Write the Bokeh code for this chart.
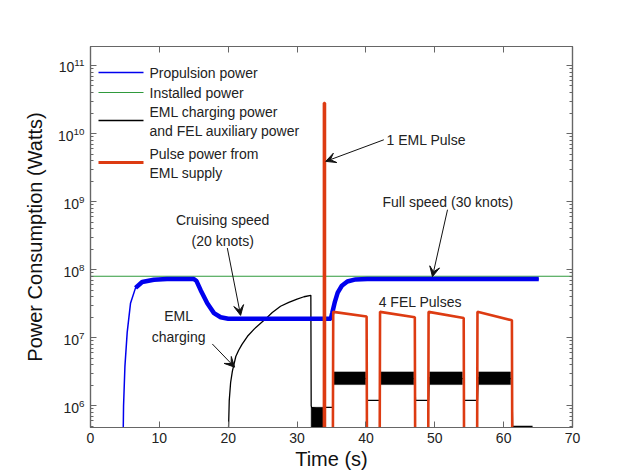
from bokeh.plotting import figure
from bokeh.models import (Arrow, VeeHead, LinearAxis, LogAxis, FixedTicker,
                          CustomJSTickFormatter, Label, PolyAnnotation)
from bokeh.embed import file_html
from bokeh.resources import INLINE

FONT = "Liberation Sans"

# ---------------- data ----------------
# Propulsion power (blue)
prop_t = [4.75, 4.8, 5.0, 5.33, 5.81, 6.54, 7.5, 9.2, 11.1, 15.0, 15.4, 16.0, 16.96,
          17.93, 18.9, 20.0, 25.0, 30.0, 34.9, 35.1, 35.5, 35.9, 36.5, 37.3, 38.5,
          40.2, 50.0, 65.1]
prop_p = [4.0e5, 1.0e6, 3.8e6, 1.2e7, 3.2e7, 5.4e7, 6.6e7, 7.1e7, 7.3e7, 7.3e7, 6.8e7,
          5.0e7, 3.2e7, 2.3e7, 2.0e7, 1.9e7, 1.9e7, 1.9e7, 1.9e7, 2.3e7, 3.4e7, 4.6e7,
          5.8e7, 6.7e7, 7.2e7, 7.3e7, 7.3e7, 7.3e7]

# Installed power (green)
inst_t = [0.0, 70.0]
inst_p = [8.0e7, 8.0e7]

# EML charging power and FEL auxiliary power (black)
aux_t = [20.0, 20.15, 20.35, 20.6, 21.1, 21.5, 22.0, 22.8, 23.8, 25.2, 26.4, 27.6,
         28.8, 30.0, 31.0, 32.0, 32.05, 32.1, 33.9, 34.0, 35.2, 35.3, 40.1, 40.2,
         42.0, 42.1, 47.1, 47.2, 49.1, 49.2, 54.2, 54.3, 56.2, 56.3, 61.2, 61.3, 64.2]
aux_p = [3.0e5, 1.2e6, 2.2e6, 3.2e6, 5.3e6, 6.5e6, 8.0e6, 1.05e7, 1.35e7, 1.8e7, 2.35e7,
         2.9e7, 3.3e7, 3.7e7, 4.0e7, 4.2e7, 1.0e6, 9.5e5, 8.5e5, 9.5e5, 9.5e5, 2.6e6,
         2.5e6, 1.2e6, 1.2e6, 2.6e6, 2.5e6, 1.2e6, 1.2e6, 2.6e6, 2.5e6, 1.2e6, 1.2e6,
         2.6e6, 2.5e6, 5.0e5, 5.0e5]

# envelope of the fast ripple on the black trace
band_left = [32.05, 35.25, 42.1, 49.25, 56.35]
band_right = [33.9, 39.95, 46.95, 54.0, 61.0]
band_low = [3.0e5, 2.05e6, 2.05e6, 2.05e6, 2.05e6]
band_high = [9.5e5, 3.15e6, 3.15e6, 3.15e6, 3.15e6]

# Pulse power from EML supply (red)
pulse_t = [33.9, 33.9, 34.05, 34.05, 35.2, 35.25, 40.1, 40.15, 42.0, 42.05, 47.1, 47.15,
           49.05, 49.1, 54.2, 54.25, 56.15, 56.2, 61.2, 61.25]
pulse_p = [3.0e5, 2.8e10, 2.8e10, 3.0e5, 3.0e5, 2.4e7, 2.05e7, 3.0e5, 3.0e5, 2.4e7,
           2.0e7, 3.0e5, 3.0e5, 2.4e7, 1.95e7, 3.0e5, 3.0e5, 2.4e7, 1.8e7, 3.0e5]

x_ticks = [0, 10, 20, 30, 40, 50, 60, 70]
y_ticks = [1e6, 1e7, 1e8, 1e9, 1e10, 1e11]
y_minor = [m * 10.0 ** k for k in range(5, 12) for m in range(2, 10)]

legend_labels = [["Propulsion power"], ["Installed power"],
                 ["EML charging power", "and FEL auxiliary power"],
                 ["Pulse power from", "EML supply"]]

# ---------------- figure ----------------
p = figure(width=627, height=473, x_range=(0, 70), y_range=(4.8e5, 1.9e11),
           y_axis_type="log", output_backend="svg", toolbar_location=None,
           min_border_left=90, min_border_right=55, min_border_top=46,
           min_border_bottom=46, background_fill_color="white",
           border_fill_color="white")
p.xgrid.visible = False
p.ygrid.visible = False
p.outline_line_color = "#666666"
p.outline_line_width = 1.2

AX = "#666666"
TXT = "#222222"
C_PROP, C_INST, C_AUX, C_PULSE = "#0000ee", "#2f9a3c", "#000000", "#dd3b12"


def style_axis(ax):
    ax.axis_line_color = AX
    ax.axis_line_width = 1.2
    ax.major_tick_line_color = AX
    ax.minor_tick_line_color = AX
    ax.major_tick_in = 6
    ax.major_tick_out = 0
    ax.minor_tick_in = 3
    ax.minor_tick_out = 0
    ax.major_label_text_font = FONT
    ax.major_label_text_font_size = "14px"
    ax.major_label_text_color = TXT
    ax.axis_label_text_font = FONT
    ax.axis_label_text_font_style = "normal"
    ax.axis_label_text_color = "#111111"
    ax.axis_label_text_font_size = "20px"


xt = FixedTicker(ticks=x_ticks, minor_ticks=[])
yt = FixedTicker(ticks=y_ticks, minor_ticks=y_minor)
blank = CustomJSTickFormatter(code="return ''")

p.xaxis.ticker = xt
p.yaxis.ticker = yt
for ax in p.xaxis + p.yaxis:
    style_axis(ax)
p.xaxis.major_label_standoff = 5
p.xaxis.axis_label = "Time (s)"
p.xaxis.axis_label_standoff = 2
p.yaxis.major_label_standoff = 6
p.yaxis.axis_label = "Power Consumption (Watts)"
p.yaxis.axis_label_standoff = 9

top_ax = LinearAxis(ticker=xt, formatter=blank)
right_ax = LogAxis(ticker=yt, formatter=blank)
style_axis(top_ax)
style_axis(right_ax)
p.add_layout(top_ax, "above")
p.add_layout(right_ax, "right")

# ---------------- series ----------------
p.line(inst_t, inst_p, line_color=C_INST, line_width=1.2)
p.quad(left=band_left, right=band_right, bottom=band_low, top=band_high,
       fill_color="black", line_color="black", line_width=0.5)
p.line(aux_t, aux_p, line_color=C_AUX, line_width=1.3)
p.line(prop_t, prop_p, line_color=C_PROP, line_width=1.5)
p.line(prop_t[5:], prop_p[5:], line_color=C_PROP, line_width=4.5)
p.line(pulse_t, pulse_p, line_color=C_PULSE, line_width=2.6)

# ---------------- legend (frame-relative pixels, boxed off as in MATLAB) ----------------
FRAME_H = 381
leg_colors = [C_PROP, C_INST, C_AUX, C_PULSE]
leg_widths = [1.5, 1.2, 1.3, 2.8]
leg_glyph_y = [26, 46, 74, 116]          # px below frame top
leg_text_y = [[26], [46], [65, 84], [107, 126]]
for lab, col, lw, gy, ty in zip(legend_labels, leg_colors, leg_widths, leg_glyph_y,
                                leg_text_y):
    p.add_layout(PolyAnnotation(xs=[8, 53], ys=[FRAME_H - gy, FRAME_H - gy],
                                xs_units="screen", ys_units="screen",
                                line_color=col, line_width=lw, line_alpha=1.0,
                                fill_alpha=0))
    for line_text, yy in zip(lab, ty):
        p.add_layout(Label(x=59, y=FRAME_H - yy, x_units="screen", y_units="screen",
                           text=line_text, text_align="left", text_baseline="middle",
                           text_font=FONT, text_font_size="14px", text_color=TXT))

# ---------------- annotations ----------------
def note(x, y, text, align="center"):
    p.add_layout(Label(x=x, y=y, text=text, text_align=align, text_baseline="middle",
                       text_font=FONT, text_font_size="14px", text_color=TXT,
                       text_line_height=1.3))


def arrow(x0, y0, x1, y1):
    p.add_layout(Arrow(end=VeeHead(size=10, fill_color="#111111", line_color="#111111"),
                       x_start=x0, y_start=y0, x_end=x1, y_end=y1,
                       line_color="#111111", line_width=1))


note(19.2, 3.77e8, "Cruising speed\n(20 knots)")
arrow(19.87, 2.08e8, 21.8, 2.13e7)
note(12.8, 1.45e7, "EML\ncharging")
arrow(17.69, 8.1e6, 20.93, 3.7e6)
note(43.0, 8.0e9, "1 EML Pulse", align="left")
arrow(42.6, 8.1e9, 34.16, 3.9e9)
note(51.9, 1.0e9, "Full speed (30 knots)")
arrow(51.85, 7.6e8, 49.66, 7.9e7)
note(47.9, 3.4e7, "4 FEL Pulses")

open("out.html", "w").write(file_html(p, INLINE))
